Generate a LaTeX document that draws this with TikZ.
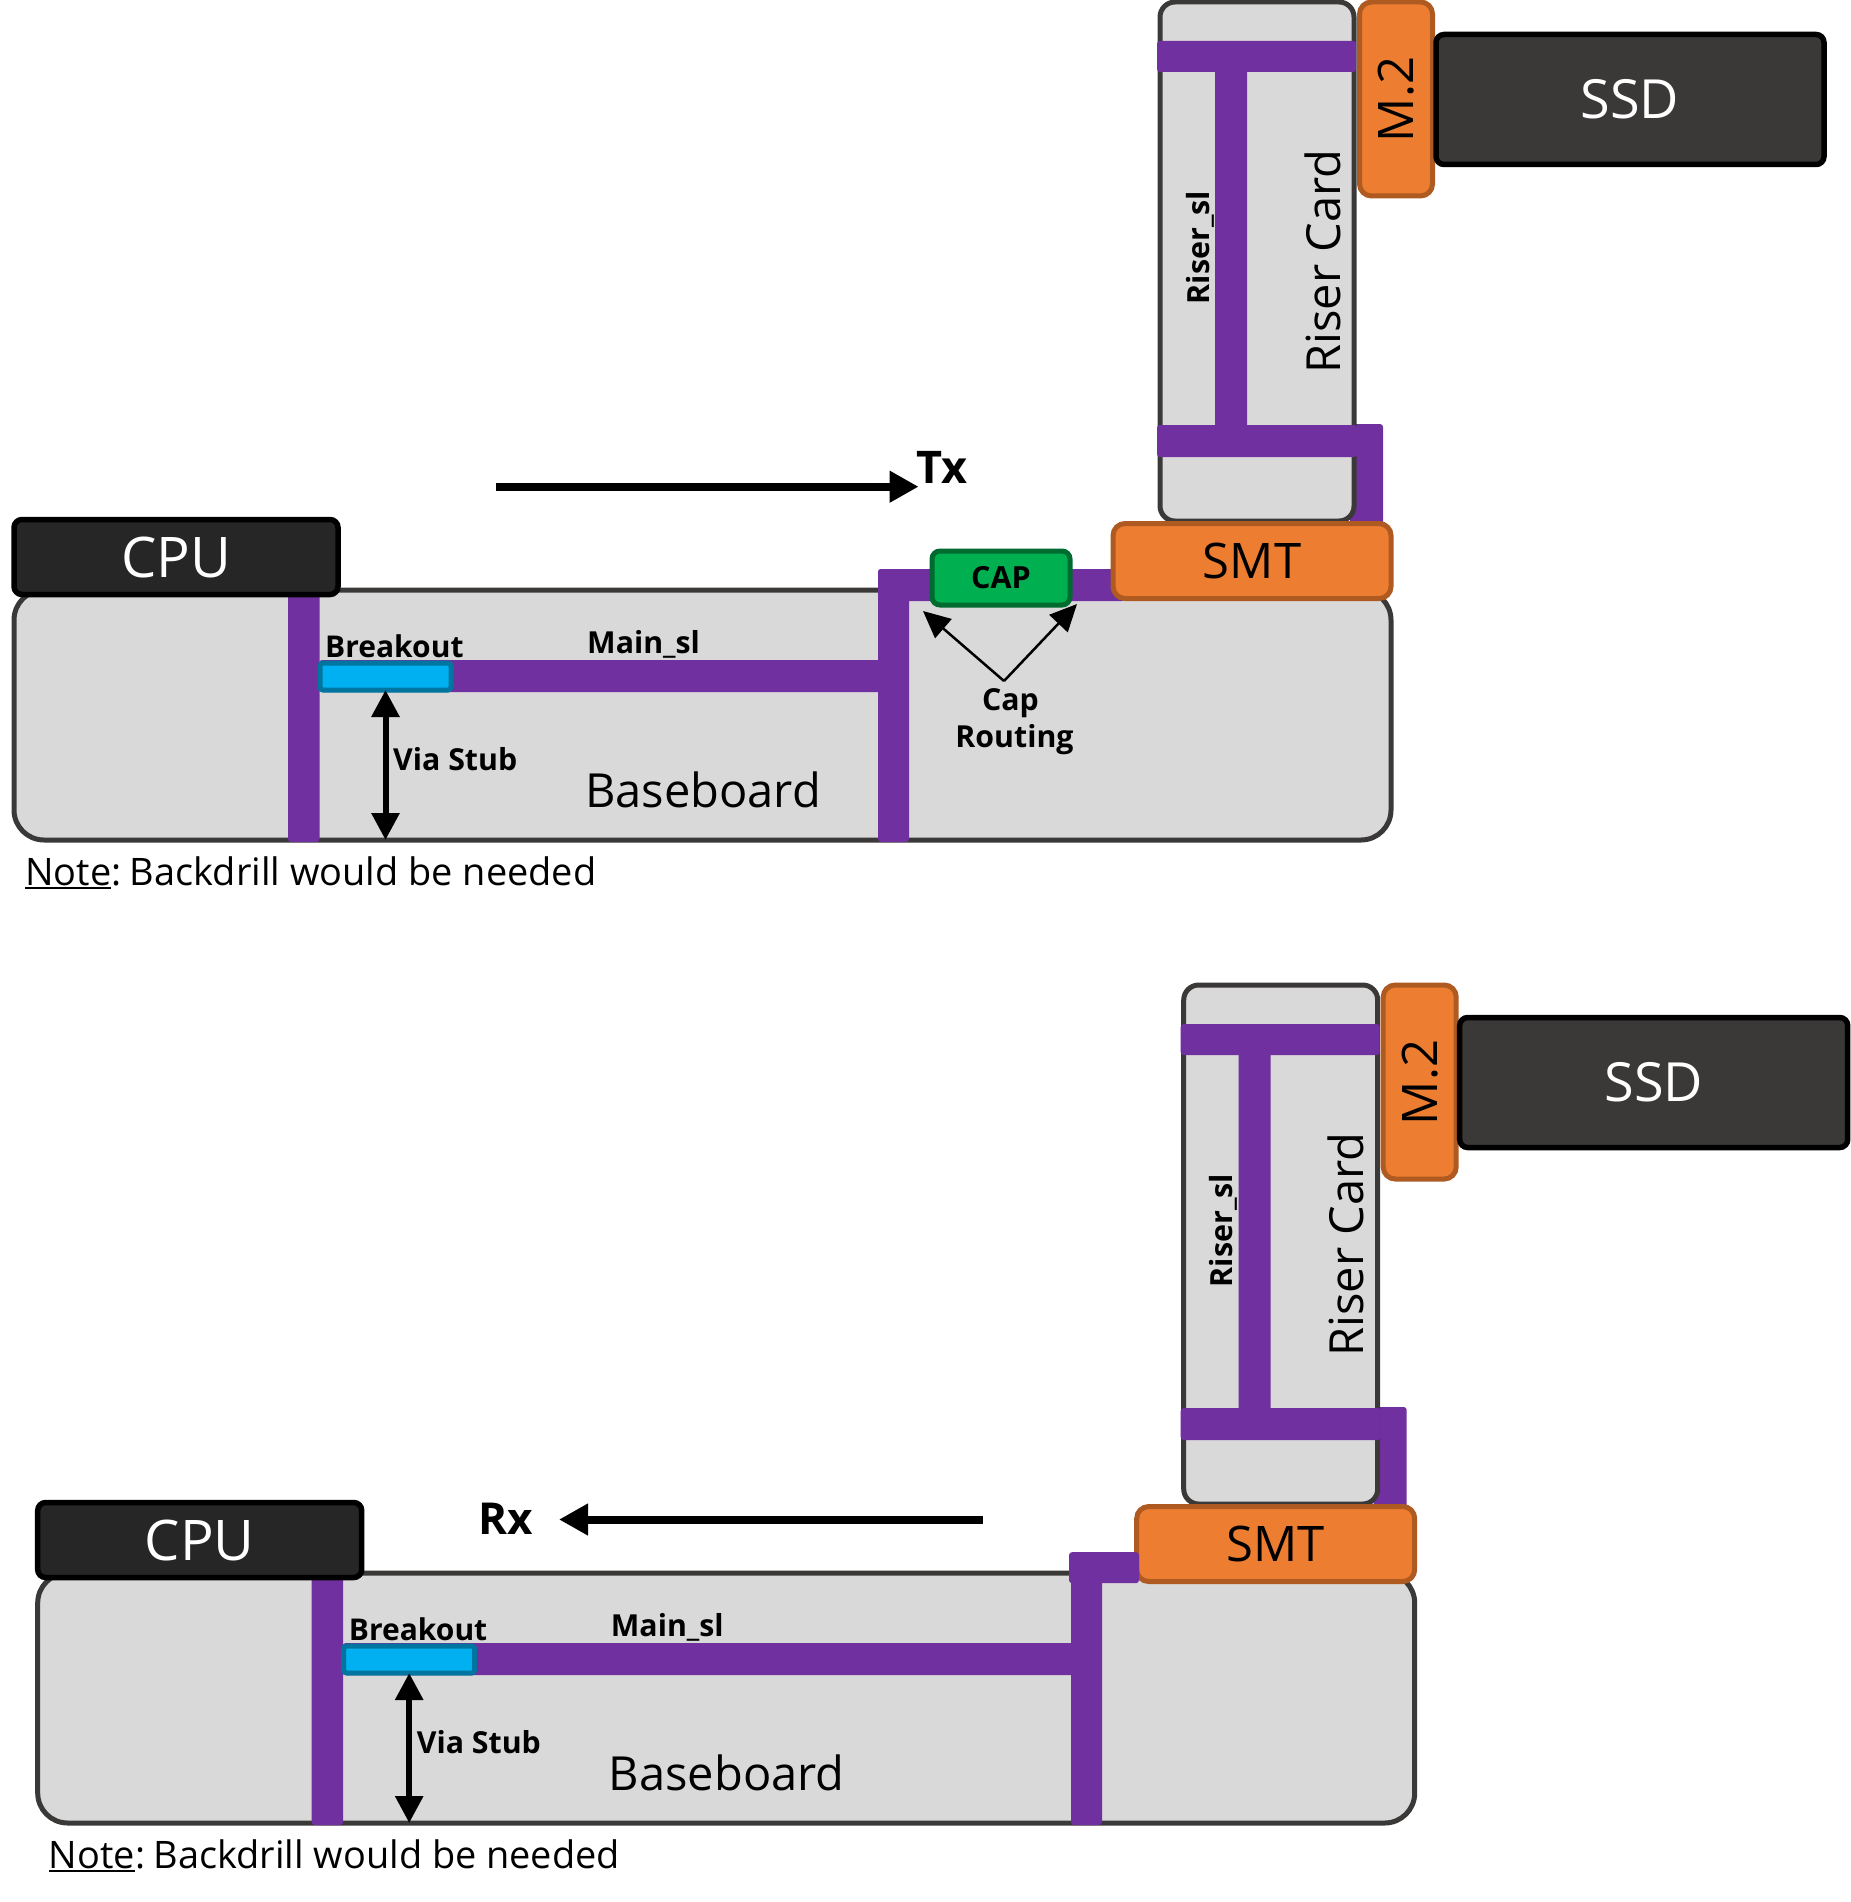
\documentclass[tikz,border=0pt]{standalone}
\usepackage{fontspec}
\setmainfont{Open Sans}
\usetikzlibrary{arrows.meta}
\definecolor{trace}{HTML}{7030A0}
\definecolor{boardfill}{HTML}{D9D9D9}
\definecolor{boardline}{HTML}{3B3838}
\definecolor{orangefill}{HTML}{ED7D31}
\definecolor{orangeline}{HTML}{AE5A21}
\definecolor{cpufill}{HTML}{262626}
\definecolor{bluefill}{HTML}{00B0F0}
\definecolor{blueline}{HTML}{00759F}
\definecolor{greenfill}{HTML}{00B050}
\definecolor{greenline}{HTML}{006B2F}
\newcommand{\fs}[1]{\fontsize{#1}{#1}\selectfont}
\newcommand{\ulbox}[1]{\vtop{\hbox{#1}\kern2pt\hrule height 2pt}}
\tikzset{
  x=1pt,y=-1pt,
  solid box/.style={draw,inner sep=0pt,outer sep=0pt,line width=5pt,rounded corners=#1},
  board/.style={solid box=#1,draw=boardline,fill=boardfill},
  orangebox/.style={solid box=12pt,draw=orangeline,fill=orangefill,text=black},
  chip/.style={solid box=8pt,draw=black,line width=5.5pt,text=white},
  tracefill/.style={fill=trace,rounded corners=3pt},
  biglabel/.style={inner sep=0pt,font=\fs{#1}},
  boldlabel/.style={inner sep=0pt,font=\fs{#1}\bfseries},
  thick arrow/.style={draw=black,line width=8pt,-{Triangle[length=29pt,width=30pt]}},
  stub arrow/.style={draw=black,line width=6pt,{Triangle[length=27pt,width=27pt]}-{Triangle[length=27pt,width=27pt]}},
  thin arrow/.style={draw=black,line width=2.5pt,-{Triangle[length=27pt,width=25pt]}},
}
% Parts shared by both panels
\newcommand{\riserpart}{%
  \fill[tracefill] (1350,424) rectangle (1383,530);
  \node[board=15pt,minimum width=194pt,minimum height=519pt] (riser) at (1257,261.5) {};
  \fill[tracefill] (1215,60) rectangle (1247,440);
  \fill[tracefill] (1157,41) rectangle (1356,72);
  \fill[tracefill] (1157,425) rectangle (1357,457);
  \node[boldlabel=30.5,rotate=90] (risersl) at (1200,247.5) {Riser\_sl};
  \node[biglabel=47,rotate=90] (risercard) at (1322.5,261.5) {Riser Card};
  \node[orangebox,minimum width=73pt,minimum height=194pt] (m2) at (1396,99) {};
  \node[biglabel=49,rotate=90] (m2text) at (1396,99.5) {M.2};
  \node[chip,fill=boardline,minimum width=388pt,minimum height=130pt] (ssd) at (1630,99.5) {\fs{54}\raisebox{-1pt}{SSD}};
}
\newcommand{\boardpart}[1]{%
  \node[board=30pt,minimum width=1377pt,minimum height=250pt] (bb) at (702.5,715) {};
  \fill[tracefill] (288,590) rectangle (319.5,842);
  \fill[tracefill] (319,660) rectangle (#1,692);
  \node[chip,fill=cpufill,minimum width=324pt,minimum height=75pt] (cpu) at (176,557) {\fs{56}\raisebox{-1pt}{CPU}};
  \node[solid box=3pt,draw=blueline,fill=bluefill,minimum width=131pt,minimum height=27pt] (blue) at (385.5,676.5) {};
  \coordinate (stubend) at (blue.south |- bb.south);
  \draw[stub arrow] (blue.south) -- (stubend);
  \node[boldlabel=30,anchor=base west] (breakout) at (325,657) {Breakout};
  \node[boldlabel=30.3,anchor=base west] (mainsl) at (587,653) {Main\_sl};
  \node[boldlabel=30.3,anchor=base west] (viastub) at (393,770) {Via Stub};
  \node[biglabel=47,anchor=base] (bbtext) at (703,807) {Baseboard};
  \node[biglabel=37.9,anchor=base west] (note) at (25,885) {\ulbox{Note}:\hspace{-4.5pt} Backdrill would be needed};
}
\begin{document}
\begin{tikzpicture}
\useasboundingbox (0,0) rectangle (1850,1902);
% ---------- Tx panel ----------
\begin{scope}[name prefix=tx-]
  \riserpart
  \boardpart{885}
  \fill[tracefill] (878,569) rectangle (909,842);
  \fill[tracefill] (878,569) rectangle (1125,601);
  \node[orangebox,minimum width=278pt,minimum height=75pt] (smt) at (1252,561) {\fs{49}SMT};
  \node[solid box=8pt,draw=greenline,fill=greenfill,minimum width=138pt,minimum height=54pt] (cap) at (1001,578) {\fs{30.5}\bfseries CAP};
  \coordinate (txstart) at (496,486.7);
  \coordinate (txend) at (918.6,486.7);
  \draw[thick arrow] (txstart) -- (txend);
  \node[boldlabel=45,anchor=base west] (txlabel) at (916,483) {Tx};
  \coordinate (apex) at (1004,681);
  \coordinate (capl) at (923,611);
  \coordinate (capr) at (1077,604);
  \draw[thin arrow] (apex) -- (capl);
  \draw[thin arrow] (apex) -- (capr);
  \node[boldlabel=30.3,align=center] (routing) at (1014.5,722) {Cap\hspace*{8pt}\\[7pt]Routing};
\end{scope}
% ---------- Rx panel ----------
\begin{scope}[shift={(23.7,983)},name prefix=rx-]
  \riserpart
  \boardpart{1050}
  \fill[tracefill] (1047.3,569.2) rectangle (1078.3,842);
  \node[orangebox,minimum width=278pt,minimum height=75pt] (smt) at (1252,561) {\fs{49}SMT};
  \fill[tracefill] (1045.3,569.2) rectangle (1115.3,600.2);
  \coordinate (rxstart) at (959,536.5);
  \coordinate (rxend) at (535.3,536.5);
  \draw[thick arrow] (rxstart) -- (rxend);
  \node[boldlabel=44,anchor=base west] (rxlabel) at (455,551) {Rx};
\end{scope}
\end{tikzpicture}
\end{document}
